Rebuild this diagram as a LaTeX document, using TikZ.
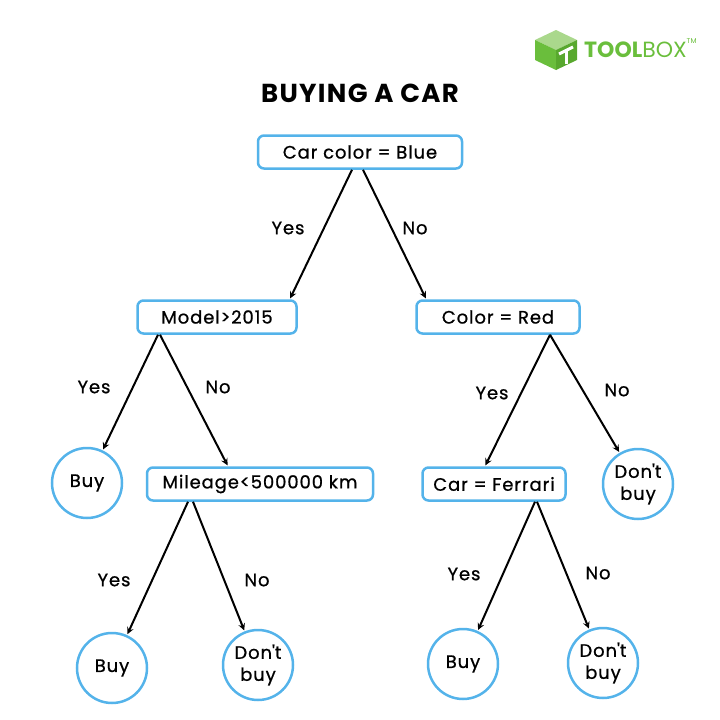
\documentclass[tikz,border=0pt]{standalone}
\usepackage{fontspec}
\setmainfont{Poppins}[LetterSpace=5]
\newfontfamily\medfont{Poppins}[LetterSpace=5, FakeBold=0.8]
\newfontfamily\logofont{Poppins}
\definecolor{boxblue}{RGB}{84,179,234}
\definecolor{tbgreen}{RGB}{106,190,60}
\definecolor{tblight}{RGB}{170,216,140}
\definecolor{tbdark}{RGB}{88,168,46}

\begin{document}
\begin{tikzpicture}[x=1pt,y=-1pt,
	test/.style={draw=boxblue, line width=2.5pt, rounded corners=6pt, minimum height=33pt, inner xsep=0pt, font=\medfont\fontsize{18}{20}\selectfont},
	leaf/.style={circle, draw=boxblue, line width=2.5pt, minimum size=70pt, inner sep=0pt, align=center, font=\medfont\fontsize{18}{22}\selectfont},
	edge/.style={->, >=stealth, line width=2pt, shorten >=1pt},
	lbl/.style={font=\medfont\fontsize{18}{20}\selectfont}]
	\useasboundingbox (0,0) rectangle (720,720);
	% logo
	\fill[tblight] (556,30)--(577,40)--(556,50)--(535,40)--cycle;
	\fill[tbgreen] (535,40)--(556,50)--(556,70)--(535,60)--cycle;
	\fill[tbdark] (556,50)--(577,40)--(577,60)--(556,70)--cycle;
	\draw[white, line width=3pt] (559,54)--(573,47);
	\draw[white, line width=3pt] (566,51)--(566,64);
	\node[anchor=west, text=tbgreen, font=\logofont\fontsize{22}{24}\selectfont, inner sep=0pt] (logo) at (584,48) {\textbf{TOOL}BOX\raisebox{1.2ex}{\fontsize{7}{8}\selectfont TM}};
	\node[font=\fontsize{26}{28}\selectfont\bfseries] (title) at (360,93) {BUYING A CAR};
	% tests
	\node[test, minimum width=204pt] (root) at (360,152) {Car color = Blue};
	\node[test, minimum width=159pt] (model) at (217,317) {Model>2015};
	\node[test, minimum width=163pt] (colr) at (498,317) {Color = Red};
	\node[test, minimum width=226pt] (mile) at (260,484) {Mileage<500000 km};
	\node[test, minimum width=143pt] (ferr) at (494,484) {Car = Ferrari};
	% leaves
	\node[leaf] (buyA) at (87,483) {Buy};
	\node[leaf] (nobuyA) at (638,484) {Don\textquotesingle t\\buy};
	\node[leaf] (buyB) at (112,668) {Buy};
	\node[leaf] (nobuyB) at (258,665) {Don\textquotesingle t\\buy};
	\node[leaf] (buyC) at (463,664) {Buy};
	\node[leaf] (nobuyC) at (603,663) {Don\textquotesingle t\\buy};
	% edges
	\draw[edge] ([xshift=-8]root.south) -- ([xshift=-8]model.north east);
	\draw[edge] ([xshift=3]root.south) -- ([xshift=11]colr.north west);
	\draw[edge] ([xshift=-59]model.south) -- (buyA);
	\draw[edge] ([xshift=-57]model.south) -- ([xshift=-32]mile.north);
	\draw[edge] ([xshift=52]colr.south) -- ([xshift=-9]ferr.north);
	\draw[edge] ([xshift=52]colr.south) -- (nobuyA);
	\draw[edge] ([xshift=-72]mile.south) -- (buyB);
	\draw[edge] ([xshift=-67]mile.south) -- (nobuyB);
	\draw[edge] ([xshift=41]ferr.south) -- (buyC);
	\draw[edge] ([xshift=43]ferr.south) -- (nobuyC);
	% labels
	\node[lbl] (y1) at (288,228) {Yes};
	\node[lbl] (n1) at (415,228) {No};
	\node[lbl] (y2) at (94,387) {Yes};
	\node[lbl] (n2) at (218,387) {No};
	\node[lbl] (y3) at (492,393) {Yes};
	\node[lbl] (n3) at (617,390) {No};
	\node[lbl] (y4) at (114,580) {Yes};
	\node[lbl] (n4) at (257,580) {No};
	\node[lbl] (y5) at (464,574) {Yes};
	\node[lbl] (n5) at (598,573) {No};
\end{tikzpicture}
\end{document}
